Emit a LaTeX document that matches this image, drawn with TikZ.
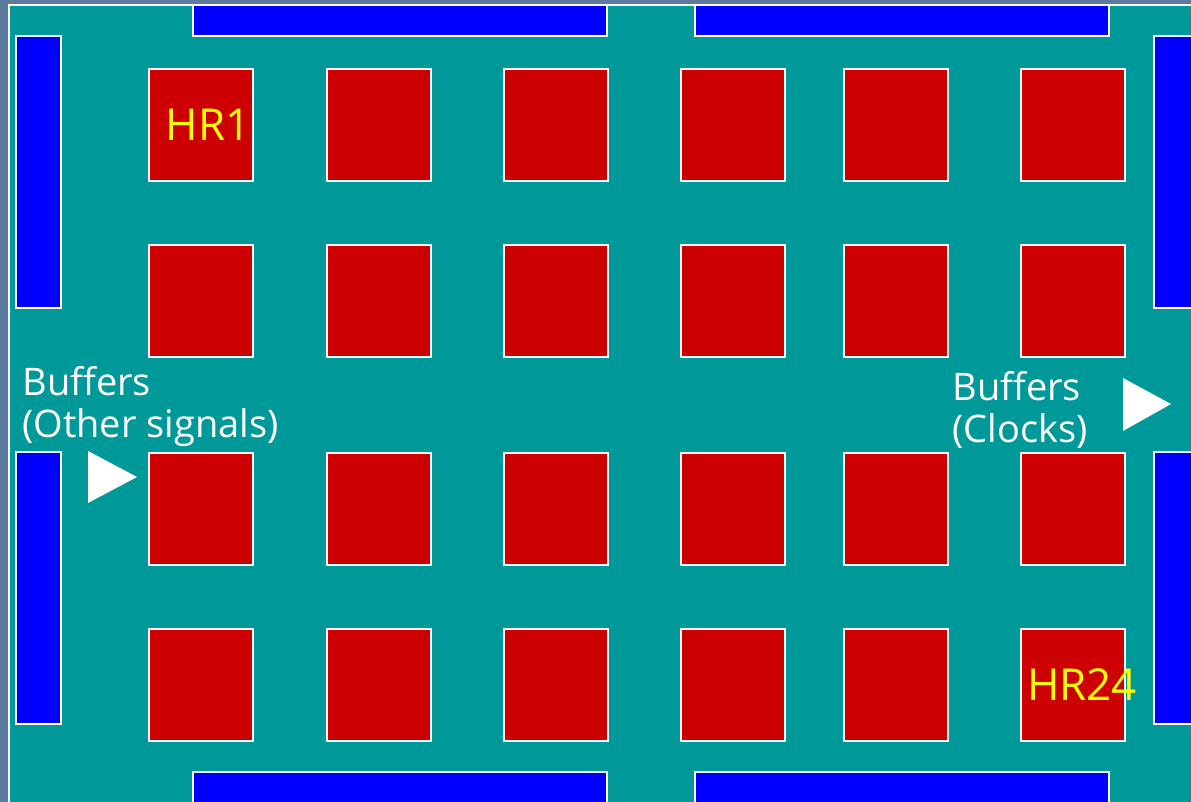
\documentclass[tikz,border=0pt]{standalone}
\usepackage{fontspec}
\setmainfont{Open Sans}
\definecolor{SlideBg}{RGB}{92,122,158}
\definecolor{BoardTeal}{RGB}{0,153,153}
\definecolor{BufBlue}{RGB}{0,0,255}
\definecolor{HybRed}{RGB}{204,0,0}
\definecolor{LabelYellow}{RGB}{255,255,0}
\tikzset{
	hrbox/.style={draw=white, line width=1pt, fill=HybRed, anchor=north west,
		minimum width=52pt, minimum height=56pt, inner sep=0pt},
	bufbar/.style={draw=white, line width=1pt, fill=BufBlue},
	hrlabel/.style={text=LabelYellow, font=\fontsize{22}{24}\selectfont, inner sep=0pt},
	buflabel/.style={text=white, align=left, anchor=north west, inner sep=0pt,
		font=\fontsize{19}{21}\selectfont}
}

\begin{document}
\begin{tikzpicture}[x=0.5pt, y=-0.5pt]
		\useasboundingbox (0,0) rectangle (1191,802);
		\fill[SlideBg] (0,0) rectangle (1191,802);
		\draw[white, line width=1pt, fill=BoardTeal] (9,5) rectangle (1200,812);
		% buffer bars
		\draw[bufbar] (193,5) rectangle (607,36);
		\draw[bufbar] (695,5) rectangle (1109,36);
		\draw[bufbar] (193,772) rectangle (607,812);
		\draw[bufbar] (695,772) rectangle (1109,812);
		\draw[bufbar] (16,36) rectangle (61,308);
		\draw[bufbar] (16,452) rectangle (61,724);
		\draw[bufbar] (1154,36) rectangle (1200,308);
		\draw[bufbar] (1154,452) rectangle (1200,724);
		% hybrid squares
		\foreach \col/\x in {1/148,2/326,3/503,4/680,5/843,6/1020}
			\foreach \row/\y in {1/68,2/244,3/452,4/628}
				\node[hrbox] (hr-\row-\col) at (\x,\y) {};
		\node[hrlabel, xshift=3.5pt] at (hr-1-1) {HR1};
		\node[hrlabel, xshift=4.5pt] at (hr-4-6) {HR24};
		% buffer labels and arrows
		\node[buflabel] (buf-left) at (22,366) {Buffers\\(Other signals)};
		\node[buflabel] (buf-right) at (952,371) {Buffers\\(Clocks)};
		\fill[white] (88,451) -- (88,503) -- (137,477) -- cycle;
		\fill[white] (1123,378) -- (1123,431) -- (1171,404) -- cycle;
	\end{tikzpicture}
\end{document}
